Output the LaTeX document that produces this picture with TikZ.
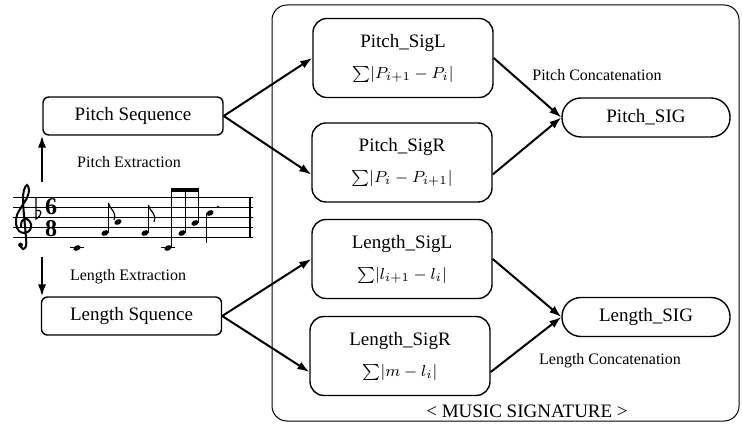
\documentclass[tikz,border=0pt]{standalone}
\usepackage{amsmath,amssymb}
\usepackage{fontspec}
\setmainfont{Liberation Serif}
\usetikzlibrary{arrows.meta, positioning}

\tikzset{
  seqbox/.style={draw, line width=0.7pt, rounded corners=3pt, minimum width=90pt,
    minimum height=19pt, inner sep=0pt, font=\fontsize{9.5}{11}\selectfont},
  sigbox/.style={draw, line width=0.7pt, rounded corners=7pt, minimum width=90pt,
    minimum height=39.5pt, inner sep=0pt, align=center, font=\fontsize{9.5}{14}\selectfont},
  outbox/.style={draw, line width=0.7pt, rounded corners=9.5pt, minimum width=84pt,
    minimum height=19.5pt, inner sep=0pt, font=\fontsize{9.5}{11}\selectfont},
  steplabel/.style={font=\fontsize{8}{9}\selectfont},
  flow/.style={-{Latex[length=6pt,width=4.2pt]}, line width=1pt},
}
% note head, tilted
\newcommand{\nhead}[2]{\fill[rotate around={25:(#1,#2)}] (#1,#2) ellipse [x radius=3.8, y radius=2.6];}
\newcommand{\fsum}[1]{{\fontsize{8}{9}\selectfont$\sum\lvert #1\rvert$}}

\begin{document}
\begin{tikzpicture}[x=0.5pt, y=-0.5pt, >=Stealth]
  \useasboundingbox (0,0) rectangle (742,426);

  % frame of the signature block
  \draw[line width=0.5pt, rounded corners=7.5pt] (272,5) rectangle (739,421);
  \node[font=\fontsize{9.5}{11}\selectfont] (msig) at (527,411) {< MUSIC SIGNATURE >};

  % sequences
  \node[seqbox] (pseq) at (133,116) {Pitch Sequence};
  \node[seqbox] (lseq) at (131.5,316) {Length Squence};
  \node[steplabel] (pext) at (129,162) {Pitch Extraction};
  \node[steplabel] (lext) at (128,277) {Length Extraction};

  % staff
  \foreach \y in {198,208,218,228,238}
    \draw[line width=0.5pt] (13,\y) -- (253,\y);
  \draw[line width=0.6pt] (250,198) -- (250,238);
  % treble clef
  \draw[line width=1pt] plot[smooth, tension=0.6] coordinates {
    (20,245) (23,249) (26,246) (26,238) (24,215) (23,200) (24,190) (27,185)
    (29,190) (27,198) (22,206) (17,215) (16,224) (19,231) (25,233) (30,230)
    (31,224) (27,219) (22,221) (21,227)};
  \fill (20.5,245) circle (2.4);
  % key and time
  \draw[line width=0.6pt] (36,198) -- (36,219) .. controls (43,215) and (42,208) .. (36,211);
  \node[font=\bfseries\fontsize{12}{12}\selectfont, inner sep=0pt] (tsix) at (51,207) {6};
  \node[font=\bfseries\fontsize{12}{12}\selectfont, inner sep=0pt] (teight) at (51,229) {8};
  % notes
  \draw[line width=0.5pt] (70,248) -- (84,248);
  \nhead{77}{248}
  \nhead{105}{233}
  \draw[line width=0.5pt] (108.3,233) -- (108.3,203);
  \draw[line width=0.6pt] (108.3,203) .. controls (110,210) and (117,211) .. (114,220);
  \nhead{118}{222}
  \nhead{145}{233}
  \draw[line width=0.5pt] (148.3,233) -- (148.3,205);
  \draw[line width=0.6pt] (148.3,205) .. controls (150,212) and (157,213) .. (154,222);
  \draw[line width=0.5pt] (161,248) -- (175,248);
  \nhead{168}{248}
  \nhead{182}{233}
  \nhead{195}{223}
  \draw[line width=0.5pt] (171.3,248) -- (171.3,190);
  \draw[line width=0.5pt] (185.3,233) -- (185.3,190);
  \draw[line width=0.5pt] (198.3,223) -- (198.3,190);
  \fill (171,188) rectangle (199,192.5);
  \nhead{210}{213}
  \draw[line width=0.5pt] (206.7,213) -- (206.7,243);
  \fill (218,207) circle (1.4);

  % extraction arrows
  \coordinate (pup) at (42,182);
  \coordinate (ldown) at (42,257);
  \draw[flow] (pup) -- (pup |- pseq.south);
  \draw[flow] (ldown) -- (ldown |- lseq.north);

  % signature parts
  \node[sigbox] (psigl) at (403,58) {Pitch\_SigL\\[1.5pt]\fsum{P_{i+1}-P_i}};
  \node[sigbox] (psigr) at (402,162.5) {Pitch\_SigR\\[1.5pt]\fsum{P_i-P_{i+1}}};
  \node[sigbox] (lsigl) at (402,259) {Length\_SigL\\[1.5pt]\fsum{l_{i+1}-l_i}};
  \node[sigbox] (lsigr) at (400,356) {Length\_SigR\\[1.5pt]\fsum{m-l_i}};

  % concatenated signatures
  \node[outbox] (psig) at (646,117.5) {Pitch\_SIG};
  \node[outbox] (lsig) at (646,317) {Length\_SIG};
  \node[steplabel] (pcat) at (597,75) {Pitch Concatenation};
  \node[steplabel] (lcat) at (610,361) {Length Concatenation};

  % connectors
  \draw[flow] (pseq.east) -- (psigl.west);
  \draw[flow] (pseq.east) -- ([yshift=-6pt]psigr.west);
  \draw[flow] (lseq.east) -- (lsigl.west);
  \draw[flow] (lseq.east) -- ([yshift=-8pt]lsigr.west);
  \draw[flow] (psigl.east) -- (psig.west);
  \draw[flow] ([yshift=-6pt]psigr.east) -- (psig.west);
  \draw[flow] (lsigl.east) -- (lsig.west);
  \draw[flow] ([yshift=-8pt]lsigr.east) -- (lsig.west);
\end{tikzpicture}
\end{document}
